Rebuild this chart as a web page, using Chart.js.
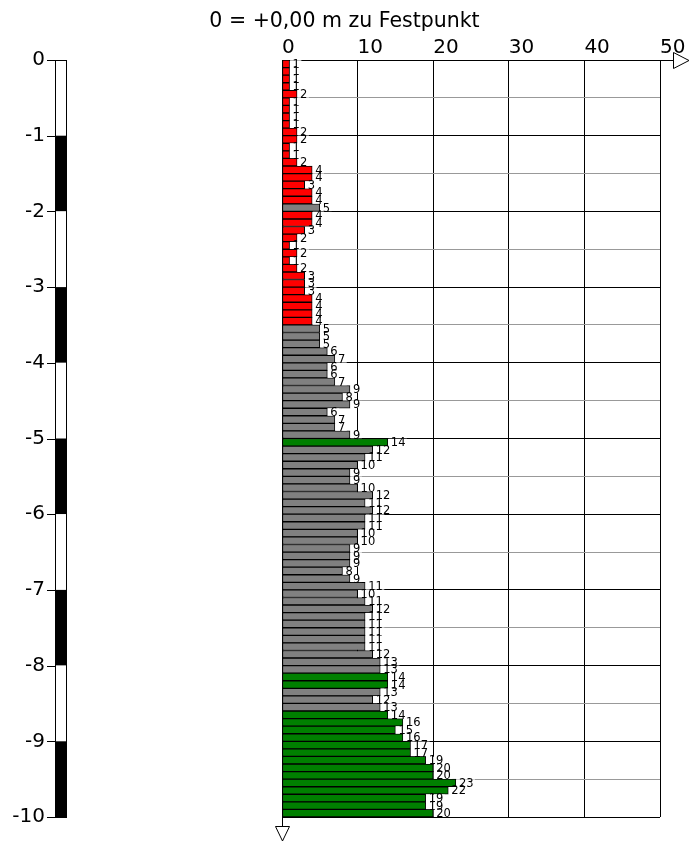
<!DOCTYPE html>
<html>
<head>
<meta charset="utf-8">
<title>Rammsondierung</title>
<script src="https://cdn.jsdelivr.net/npm/chart.js@4.4.1/dist/chart.umd.min.js"></script>
<style>
    html, body { margin: 0; padding: 0; background: #fff; }
    canvas { display: block; }
</style>
</head>
<body>
<canvas id="sondierung" width="689" height="843"></canvas>
<script>
    'use strict';

    // Schlagzahlen je 10 cm Eindringung, von oben nach unten
    const schlaege = [
        1, 1, 1, 1, 2, 1, 1, 1, 1, 2,
        2, 1, 1, 2, 4, 4, 3, 4, 4, 5,
        4, 4, 3, 2, 1, 2, 1, 2, 3, 3,
        3, 4, 4, 4, 4, 5, 5, 5, 6, 7,
        6, 6, 7, 9, 8, 9, 6, 7, 7, 9,
        14, 12, 11, 10, 9, 9, 10, 12, 11, 12,
        11, 11, 10, 10, 9, 9, 9, 8, 9, 11,
        10, 11, 12, 11, 11, 11, 11, 11, 12, 13,
        13, 14, 14, 13, 12, 13, 14, 16, 15, 16,
        17, 17, 19, 20, 20, 23, 22, 19, 19, 20
    ];
    const schrittweite = 0.1;                 // m je Balken
    const tiefeTicks = [0, -1, -2, -3, -4, -5, -6, -7, -8, -9, -10];
    const schlagTicks = [0, 10, 20, 30, 40, 50];
    const titelText = '0 = +0,00 m zu Festpunkt';

    // Bandgrenzen fuer die Einfaerbung
    const GRENZE_LOCKER = 5;
    const GRENZE_FEST = 14;

    function barColor(n) {
        if (n < GRENZE_LOCKER) return '#ff0000';
        if (n >= GRENZE_FEST) return '#008000';
        return '#808080';
    }

    // Balkenmitte in m unter Festpunkt
    const punkte = schlaege.map((n, i) => ({ x: n, y: -(i + 0.5) * schrittweite }));

    Chart.defaults.font.family = '"DejaVu Sans", sans-serif';
    Chart.defaults.color = '#000';

    const sondierPlugin = {
        id: 'sondierung',

        beforeDraw(chart) {
            const ctx = chart.ctx;
            ctx.save();
            ctx.fillStyle = '#000';
            ctx.font = '20.5px "DejaVu Sans"';
            ctx.textAlign = 'center';
            ctx.textBaseline = 'alphabetic';
            ctx.fillText(titelText, chart.width / 2, 27);
            ctx.restore();
        },

        afterDatasetsDraw(chart) {
            // Zahlenwerte rechts neben den Balken
            const ctx = chart.ctx;
            const meta = chart.getDatasetMeta(0);
            ctx.save();
            ctx.font = '11.5px "DejaVu Sans"';
            ctx.textBaseline = 'middle';
            ctx.textAlign = 'left';
            meta.data.forEach((bar, i) => {
                const txt = String(schlaege[i]);
                const w = ctx.measureText(txt).width;
                const x = bar.x + 0.5;
                ctx.fillStyle = '#fff';
                ctx.fillRect(x, bar.y - 3.5, w + 4, 7);
                ctx.fillStyle = '#000';
                ctx.fillText(txt, x + 2.5, bar.y + 1);
            });
            ctx.restore();
        },

        afterDraw(chart) {
            const ctx = chart.ctx;
            const yScale = chart.scales.y;
            const area = chart.chartArea;
            ctx.save();

            // Tiefenmassstab links, meterweise schwarz/weiss
            const colX = 55, colW = 12;
            for (let m = 0; m < tiefeTicks.length - 1; m++) {
                const top = yScale.getPixelForValue(tiefeTicks[m]);
                const bot = yScale.getPixelForValue(tiefeTicks[m + 1]);
                ctx.fillStyle = m % 2 ? '#000' : '#fff';
                ctx.fillRect(colX, top, colW, bot - top);
            }
            const yTop = yScale.getPixelForValue(tiefeTicks[0]);
            const yBot = yScale.getPixelForValue(tiefeTicks[tiefeTicks.length - 1]);
            ctx.strokeStyle = '#000';
            ctx.lineWidth = 1;
            ctx.strokeRect(colX + 0.5, Math.round(yTop) + 0.5, colW - 1, yBot - yTop);
            ctx.beginPath();
            tiefeTicks.forEach(t => {
                const py = Math.round(yScale.getPixelForValue(t)) + 0.5;
                ctx.moveTo(47, py);
                ctx.lineTo(colX, py);
            });
            ctx.stroke();

            // Pfeil an der Schlagzahlachse (rechts oben)
            const ax = Math.round(area.top) + 0.5;
            ctx.beginPath();
            ctx.moveTo(area.right, ax);
            ctx.lineTo(673, ax);
            ctx.stroke();
            ctx.fillStyle = '#fff';
            ctx.beginPath();
            ctx.moveTo(673.5, ax - 8);
            ctx.lineTo(689, ax);
            ctx.lineTo(673.5, ax + 8);
            ctx.closePath();
            ctx.fill();
            ctx.stroke();

            // Pfeil an der Tiefenachse (unten)
            const lx = Math.round(area.left) + 0.5;
            ctx.beginPath();
            ctx.moveTo(lx, area.bottom);
            ctx.lineTo(lx, 826);
            ctx.stroke();
            ctx.beginPath();
            ctx.moveTo(lx - 7, 826.5);
            ctx.lineTo(lx + 7, 826.5);
            ctx.lineTo(lx, 841);
            ctx.closePath();
            ctx.fill();
            ctx.stroke();

            ctx.restore();
        }
    };

    function isMeter(c) {
        return !c.tick || Number.isInteger(Math.round(c.tick.value * 1000) / 1000);
    }

    new Chart(document.getElementById('sondierung'), {
        type: 'bar',
        data: {
            datasets: [{
                data: punkte,
                backgroundColor: schlaege.map(barColor),
                borderColor: '#000',
                borderWidth: 1,
                borderSkipped: false,
                barPercentage: 1,
                categoryPercentage: 1
            }]
        },
        options: {
            indexAxis: 'y',
            responsive: false,
            animation: false,
            layout: {
                padding: { top: 0, right: 29, bottom: 26, left: 0 }
            },
            plugins: {
                legend: { display: false },
                tooltip: { enabled: false },
                title: { display: false }
            },
            scales: {
                x: {
                    type: 'linear',
                    position: 'top',
                    min: schlagTicks[0],
                    max: schlagTicks[schlagTicks.length - 1],
                    afterBuildTicks: s => { s.ticks = schlagTicks.map(v => ({ value: v })); },
                    ticks: {
                        align: 'start',
                        padding: 0,
                        font: { size: 20 },
                        color: '#000',
                        maxRotation: 0
                    },
                    grid: { color: '#000', drawTicks: false },
                    border: { color: '#000' },
                    afterFit: s => { s.height = 60; }
                },
                y: {
                    type: 'linear',
                    offset: false,
                    min: tiefeTicks[tiefeTicks.length - 1],
                    max: tiefeTicks[0],
                    ticks: {
                        stepSize: 0.5,
                        autoSkip: false,
                        padding: 237,
                        font: { size: 20 },
                        color: '#000',
                        callback: v => Number.isInteger(v) ? String(v) : ''
                    },
                    grid: {
                        offset: false,
                        color: c => isMeter(c) ? '#000' : '#999',
                        drawTicks: false
                    },
                    border: { color: '#000' },
                    // Beschriftung weit links, ohne den Plotbereich zu stauchen
                    afterFit: s => {
                        s.width = 282;
                        s.paddingTop = 0;
                        s.paddingBottom = 0;
                    }
                }
            }
        },
        plugins: [sondierPlugin]
    });
</script>
</body>
</html>
